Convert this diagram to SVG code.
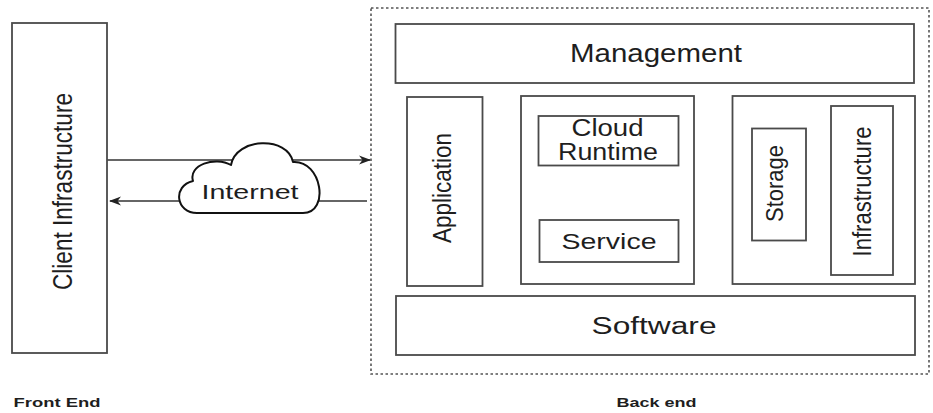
<svg xmlns="http://www.w3.org/2000/svg" width="933" height="413" viewBox="0 0 933 413">
  <defs>
    <style>
      .box { fill: #ffffff; stroke: #4a4a4a; stroke-width: 1.8; }
      .frame { fill: none; stroke: #555555; stroke-width: 1.6; stroke-dasharray: 2.5 2.5; }
      .lbl { font-family: "Liberation Sans", Arial, sans-serif; fill: #1e1e1e; text-anchor: middle; }
      .cap { font-family: "Liberation Sans", Arial, sans-serif; font-weight: bold; fill: #1e1e1e; font-size: 13px; }
      .link { fill: none; stroke: #333333; stroke-width: 1.3; }
      .cloud { fill: #ffffff; stroke: #111111; stroke-width: 2; stroke-linejoin: round; }
    </style>
    <marker id="arrow" viewBox="0 0 12 10" refX="11" refY="5" markerWidth="12" markerHeight="10" markerUnits="userSpaceOnUse" orient="auto">
      <path d="M0,0.5 L12,5 L0,9.5 L3.5,5 z" fill="#222222"/>
    </marker>
  </defs>

  <rect width="933" height="413" fill="#ffffff"/>

  <!-- back end boundary -->
  <rect class="frame" x="371" y="8" width="558" height="366"/>

  <!-- connectors -->
  <g id="connectors">
    <line class="link" x1="107" y1="160" x2="370" y2="160" marker-end="url(#arrow)"/>
    <line class="link" x1="367" y1="201" x2="110" y2="201" marker-end="url(#arrow)"/>
  </g>

  <g id="client">
    <rect class="box" x="12" y="23" width="95" height="330"/>
    <text class="lbl" font-size="27" textLength="197" lengthAdjust="spacingAndGlyphs" transform="translate(71.5,191.5) rotate(-90)">Client Infrastructure</text>
  </g>

  <g id="internet">
    <path class="cloud" d="M197,213 C176,213 172,186 193,181 C188,165 215,156 231,165 C236,137 288,136 293,162 C322,160 330,213 303,213 Z"/>
    <text class="lbl" x="250" y="198.5" font-size="21" textLength="97" lengthAdjust="spacingAndGlyphs">Internet</text>
  </g>

  <g id="management">
    <rect class="box" x="395.5" y="24" width="518.5" height="59"/>
    <text class="lbl" x="656" y="62" font-size="25" textLength="172" lengthAdjust="spacingAndGlyphs">Management</text>
  </g>

  <g id="application">
    <rect class="box" x="407" y="97" width="75.5" height="189"/>
    <text class="lbl" font-size="26" textLength="110" lengthAdjust="spacingAndGlyphs" transform="translate(451,188) rotate(-90)">Application</text>
  </g>

  <g id="runtime-group">
    <rect class="box" x="521" y="96" width="173" height="188"/>
  </g>

  <g id="cloud-runtime">
    <rect class="box" x="538.5" y="116" width="140" height="49.5"/>
    <text class="lbl" x="607.5" y="136" font-size="23" textLength="72" lengthAdjust="spacingAndGlyphs">Cloud</text>
    <text class="lbl" x="608" y="160" font-size="23" textLength="100" lengthAdjust="spacingAndGlyphs">Runtime</text>
  </g>

  <g id="service">
    <rect class="box" x="539.5" y="220" width="139" height="42"/>
    <text class="lbl" x="609" y="248.5" font-size="22" textLength="95" lengthAdjust="spacingAndGlyphs">Service</text>
  </g>

  <g id="resource-group">
    <rect class="box" x="732.5" y="96" width="182.5" height="188"/>
  </g>

  <g id="storage">
    <rect class="box" x="752" y="128.5" width="54" height="112"/>
    <text class="lbl" font-size="23" textLength="77" lengthAdjust="spacingAndGlyphs" transform="translate(783,183.5) rotate(-90)">Storage</text>
  </g>

  <g id="infrastructure">
    <rect class="box" x="831" y="106" width="62" height="169"/>
    <text class="lbl" font-size="26" textLength="130" lengthAdjust="spacingAndGlyphs" transform="translate(870.5,191.5) rotate(-90)">Infrastructure</text>
  </g>

  <g id="software">
    <rect class="box" x="396" y="296" width="519" height="59"/>
    <text class="lbl" x="654" y="333.5" font-size="23" textLength="125" lengthAdjust="spacingAndGlyphs">Software</text>
  </g>

  <text class="cap" x="13.5" y="406.5" textLength="87" lengthAdjust="spacingAndGlyphs">Front End</text>
  <text class="cap" x="616.5" y="406.5" textLength="80" lengthAdjust="spacingAndGlyphs">Back end</text>
</svg>
